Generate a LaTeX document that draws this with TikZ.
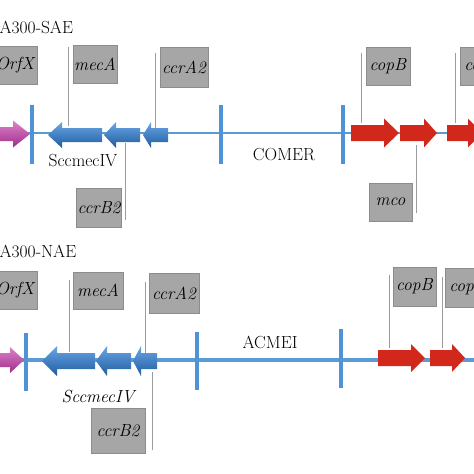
\documentclass[tikz,border=0pt]{standalone}
\usepackage{tikz}
\usetikzlibrary{calc, positioning}

\definecolor{linkblue}{HTML}{5B9BD5}
\definecolor{barblue}{HTML}{4F93D6}
\definecolor{geneblue}{HTML}{2F73C2}
\definecolor{geneblueL}{HTML}{6AA6E6}
\definecolor{geneblueD}{HTML}{1F5C9E}
\definecolor{genered}{HTML}{D2281C}
\definecolor{genepink}{HTML}{BE4CA6}
\definecolor{genepinkL}{HTML}{DE82CB}
\definecolor{genepinkD}{HTML}{9E2E88}
\definecolor{boxgray}{HTML}{A6A6A6}
\definecolor{boxedge}{HTML}{8C8C8C}
\definecolor{leadgray}{HTML}{9C9C9C}

% gene arrow: style, start, head base, tip, centre, body half, head half
\newcommand{\genearrow}[7]{%
  \path[#1] (#2,#5-#6) -- (#3,#5-#6) -- (#3,#5-#7) -- (#4,#5)
    -- (#3,#5+#7) -- (#3,#5+#6) -- (#2,#5+#6) -- cycle;}

\begin{document}
\begin{tikzpicture}[x=1pt, y=-1pt,
    every node/.style={font=\fontsize{17.5}{20}\selectfont},
    gbox/.style={draw=boxedge, line width=0.9pt, fill=boxgray, inner sep=1pt,
      minimum width=44pt, minimum height=38pt, font=\fontsize{17.5}{20}\selectfont\itshape},
    leader/.style={draw=leadgray, line width=0.9pt},
    bar/.style={draw=barblue, line width=4.5pt},
    bluegene/.style={top color=geneblueL, middle color=geneblue, bottom color=geneblueD},
    pinkgene/.style={top color=genepinkL, middle color=genepink, bottom color=genepinkD},
    redgene/.style={fill=genered}]
    \useasboundingbox (0,0) rectangle (474,474);

    % ---------- upper strain ----------
    \node[anchor=west] (titleA) at (-4,27) {A300-SAE};

    % backbone and borders
    \draw[linkblue, line width=1.2pt] (-5,133) -- (480,133);
    \draw[bar] (32,105) -- (32,164);
    \draw[bar] (221,105) -- (221,164);
    \draw[bar] (343,105) -- (343,164);

    % genes
    \genearrow{pinkgene}{-5}{13}{30}{134}{7}{13.5}
    \genearrow{bluegene}{102}{62}{48}{135}{7}{13}
    \genearrow{bluegene}{140}{116}{104}{135}{7}{13}
    \genearrow{bluegene}{168}{151}{143}{135}{7}{13}
    \genearrow{redgene}{351}{384}{399}{133}{8}{14.5}
    \genearrow{redgene}{400}{424}{437}{133}{8}{14.5}
    \genearrow{redgene}{447}{468}{482}{133}{8}{14.5}

    \node (sccA) at (83,161) {SccmecIV};
    \node (comer) at (284,155) {COMER};

    % labels
    \node[gbox] (orfxA) at (15,65.5) {OrfX};
    \node[gbox] (mecaA) at (95,64.5) {mecA};
    \node[gbox, minimum width=48pt, minimum height=40pt] (ccraA) at (184,67) {ccrA2};
    \node[gbox, minimum height=39pt] (ccrbA) at (99,207.5) {ccrB2};
    \node[gbox] (copbA) at (388,66) {copB};
    \node[gbox] (copxA) at (482,66) {copL};
    \node[gbox, minimum width=43pt] (mcoA) at (390.5,202) {mco};

    \draw[leader] ([xshift=-4pt,yshift=-2pt]mecaA.north west) -- ++(0,79);
    \draw[leader] ([xshift=-4pt,yshift=-6pt]ccraA.north west) -- ++(0,75);
    \draw[leader] ([xshift=4pt,yshift=7pt]ccrbA.south east) -- ++(0,-77);
    \draw[leader] ([xshift=-4pt,yshift=-6pt]copbA.north west) -- ++(0,70);
    \draw[leader] ([xshift=-4pt,yshift=-6pt]copxA.north west) -- ++(0,70);
    \draw[leader] ([xshift=4pt,yshift=8pt]mcoA.south east) -- ++(0,-68);

    % ---------- lower strain ----------
    \node[anchor=west] (titleB) at (-4,251) {A300-NAE};

    \draw[linkblue, line width=3.5pt] (-5,360) -- (480,360);
    \draw[bar] (26,333) -- (26,391);
    \draw[bar] (197,332) -- (197,390);
    \draw[bar] (341,329) -- (341,388);

    \genearrow{pinkgene}{-5}{10}{24}{360}{7}{13}
    \genearrow{bluegene}{95}{57}{42}{361}{8}{15}
    \genearrow{bluegene}{131}{107}{96}{361}{8}{15}
    \genearrow{bluegene}{157}{141}{133}{361}{8}{15}
    \genearrow{redgene}{378}{411}{425}{358}{8}{14}
    \genearrow{redgene}{430}{452}{465}{358}{8}{14}

    \node[font=\fontsize{17.5}{20}\selectfont\itshape] (sccB) at (98,397) {SccmecIV};
    \node (acmei) at (270,342) {ACMEI};

    \node[gbox] (orfxB) at (15,290.5) {OrfX};
    \node[gbox, minimum width=50pt, minimum height=37pt] (mecaB) at (98,290.5) {mecA};
    \node[gbox, minimum width=50pt, minimum height=40pt] (ccraB) at (174,293) {ccrA2};
    \node[gbox, minimum width=54pt, minimum height=45pt] (ccrbB) at (118,430.5) {ccrB2};
    \node[gbox, minimum width=43pt, minimum height=39pt] (copbB) at (414.5,286.5) {copB};
    \node[gbox, minimum height=39pt] (copxB) at (467,287.5) {copL};

    \draw[leader] ([xshift=-3pt,yshift=-8pt]mecaB.north west) -- ++(0,72);
    \draw[leader] ([xshift=-3pt,yshift=-9pt]ccraB.north west) -- ++(0,71);
    \draw[leader] ([xshift=7pt,yshift=3pt]ccrbB.south east) -- ++(0,-78);
    \draw[leader] ([xshift=-3pt,yshift=-8pt]copbB.north west) -- ++(0,73);
    \draw[leader] ([xshift=-2pt,yshift=-9pt]copxB.north west) -- ++(0,71);
\end{tikzpicture}
\end{document}
